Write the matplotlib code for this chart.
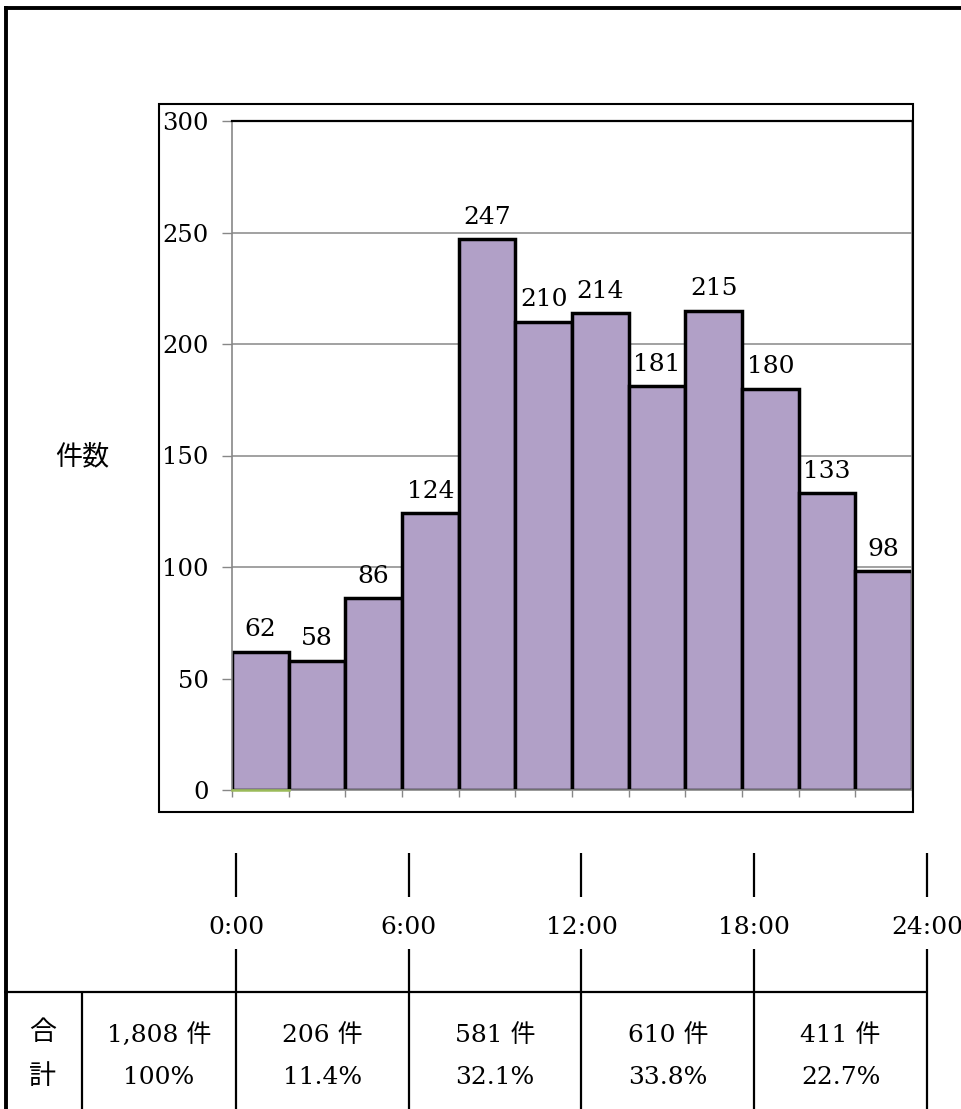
import numpy as np
import matplotlib
matplotlib.use("Agg")
import matplotlib.pyplot as plt
from matplotlib.lines import Line2D
from matplotlib.patches import Rectangle

# incidents per 2-hour slot, 0:00-24:00
bin_start = np.arange(0, 24, 2)
counts = [62, 58, 86, 124, 247, 210, 214, 181, 215, 180, 133, 98]
zero_series = [0]  # second series, only the first slot, all zero

# six-hour summary row
period_labels = ["0:00", "6:00", "12:00", "18:00", "24:00"]
period_hours = [0, 6, 12, 18, 24]
total_count = 1808
total_share = "100%"
period_counts = [206, 581, 610, 411]
period_shares = [11.4, 32.1, 33.8, 22.7]

yticks = [0, 50, 100, 150, 200, 250, 300]

W, H = 962, 1109
SERIF = ["DejaVu Serif", "Noto Sans CJK JP"]
FS = 18
CJK_FS = 19.5
GRAY = "#878787"


def fx(x):
    return x / W


def fy(y):
    return 1 - y / H


fig = plt.figure(figsize=(W / 100, H / 100), dpi=100)


def fline(x0, y0, x1, y1, lw=1.5):
    fig.add_artist(Line2D([fx(x0), fx(x1)], [fy(y0), fy(y1)],
                          transform=fig.transFigure, color="black",
                          lw=lw, solid_capstyle="butt"))


# outer frame (left and top)
fline(5.5, 6, 5.5, H, lw=2.8)
fline(4, 8, W, 8, lw=2.8)

# chart box
fig.add_artist(Rectangle((fx(159), fy(812)), fx(913) - fx(159), fy(104) - fy(812),
                         transform=fig.transFigure, fill=False,
                         edgecolor="black", lw=1.5))

ax = fig.add_axes([fx(232), fy(790), fx(912) - fx(232), fy(121) - fy(790)])
ax.bar(bin_start, counts, width=2, align="edge", color="#B1A0C7",
       edgecolor="black", linewidth=2.5, zorder=2)
ax.plot([0, 2], [zero_series[0]] * 2, color="#9BBB59", lw=1.8,
        zorder=4, clip_on=False)

for x, v in zip(bin_start, counts):
    ax.annotate(str(v), (x + 1, v), xytext=(0, 11), textcoords="offset points",
                ha="center", va="baseline", fontsize=FS, family=SERIF)

ax.set_xlim(0, 24)
ax.set_ylim(0, 300)
ax.set_yticks(yticks)
ax.set_yticklabels([str(t) for t in yticks], fontsize=17.5, family=SERIF)
ax.set_xticks(np.arange(0, 25, 2))
ax.set_xticklabels([])
ax.tick_params(axis="y", direction="out", length=7, width=1, color=GRAY, pad=10)
ax.tick_params(axis="x", direction="out", length=5, width=1, color=GRAY)
for t in yticks[1:-1]:
    ax.axhline(t, color=GRAY, lw=1.1, zorder=1)
for side in ["left", "right", "bottom"]:
    ax.spines[side].set_color(GRAY)
    ax.spines[side].set_linewidth(1.2)
ax.spines["top"].set_color("black")
ax.spines["top"].set_linewidth(1.6)
ax.spines["bottom"].set_zorder(3)

fig.text(fx(82), fy(457), "件数", ha="center", va="center",
         fontsize=CJK_FS, family=["Noto Sans CJK JP"])

# time markers and summary table
def hour_x(h):
    return 236 + h * (927 - 236) / 24


for lab, h in zip(period_labels, period_hours):
    x = hour_x(h)
    fline(x, 853, x, 897, lw=1.6)
    fline(x, 949, x, H, lw=1.6)
    fig.text(fx(x), fy(927), lab, ha="center", va="center",
             fontsize=FS, family=SERIF)

fline(4, 992, hour_x(24), 992, lw=1.6)
fline(82, 992, 82, H, lw=1.6)

fig.text(fx(43), fy(1033), "合", ha="center", va="center",
         fontsize=CJK_FS, family=["Noto Sans CJK JP"])
fig.text(fx(43), fy(1077), "計", ha="center", va="center",
         fontsize=CJK_FS, family=["Noto Sans CJK JP"])

fig.text(fx((82 + hour_x(0)) / 2), fy(1035), f"{total_count:,} 件",
         ha="center", va="center", fontsize=FS, family=SERIF)
fig.text(fx((82 + hour_x(0)) / 2), fy(1077), total_share,
         ha="center", va="center", fontsize=FS, family=SERIF)
for i, (n, p) in enumerate(zip(period_counts, period_shares)):
    cx = (hour_x(period_hours[i]) + hour_x(period_hours[i + 1])) / 2
    fig.text(fx(cx), fy(1035), f"{n:,} 件", ha="center", va="center",
             fontsize=FS, family=SERIF)
    fig.text(fx(cx), fy(1077), f"{p}%", ha="center", va="center",
             fontsize=FS, family=SERIF)

fig.savefig("out.png", dpi=100)
